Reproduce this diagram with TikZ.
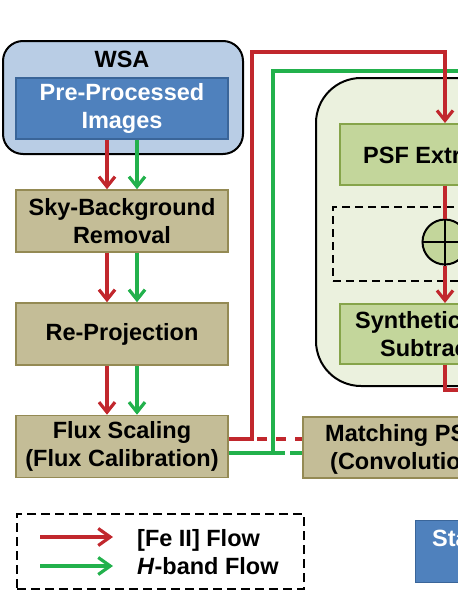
\documentclass[tikz,border=0pt]{standalone}
\usepackage{fontspec}
\setmainfont{Liberation Sans}
\usetikzlibrary{arrows.meta}
\definecolor{wsafill}{HTML}{B9CDE5}
\definecolor{bluefill}{HTML}{4F81BD}
\definecolor{blueline}{HTML}{3A6599}
\definecolor{khaki}{HTML}{C4BD97}
\definecolor{khakiline}{HTML}{948A54}
\definecolor{palegreen}{HTML}{EBF1DE}
\definecolor{boxgreen}{HTML}{C3D69B}
\definecolor{boxgreenline}{HTML}{86A44A}
\definecolor{fered}{HTML}{C1272D}
\definecolor{hgreen}{HTML}{22B14C}
\tikzset{
  lbl/.style={font=\fontsize{23.5}{28.5}\selectfont\bfseries, align=center, inner sep=0pt},
  kbox/.style={lbl, draw=khakiline, fill=khaki, line width=1.6pt, minimum width=212pt, minimum height=62pt},
  bluebox/.style={lbl, text=white, draw=blueline, fill=bluefill, line width=1.2pt, minimum width=212pt, minimum height=61pt},
  gbox/.style={draw=boxgreenline, fill=boxgreen, line width=1.6pt, inner sep=0pt, anchor=north west},
  feline/.style={draw=fered, line width=3.2pt},
  hline/.style={draw=hgreen, line width=3.2pt},
  tipstyle/.style={-{Straight Barb[length=10pt,width=16pt]}},
  legtip/.style={-{Straight Barb[length=12pt,width=17pt]}},
}
\begin{document}
\begin{tikzpicture}[x=1pt,y=-1pt]
\useasboundingbox (0,0) rectangle (458,592);
\clip (0,0) rectangle (458,592);

% left column
\node[draw=black, line width=2pt, fill=wsafill, rounded corners=20pt, minimum width=240pt, minimum height=113pt, anchor=north west, inner sep=0pt] (wsa) at (2,40) {};
\node[lbl] (wsalabel) at (122,59) {WSA};
\node[bluebox] (pre) at (122,108.5) {Pre-Processed\\Images};
\node[kbox] (sky) at (122,221) {Sky-Background\\Removal};
\node[kbox] (reproj) at (122,334) {Re-Projection};
\node[kbox] (flux) at (122,446.5) {Flux Scaling\\(Flux Calibration)};

% right group
\node[draw=black, line width=2pt, fill=palegreen, rounded corners=45pt, anchor=north west, minimum width=220pt, minimum height=308pt, inner sep=0pt] (big) at (315,77) {};
\node[gbox, minimum width=160pt, minimum height=61pt] (psf) at (339,123) {};
\node[lbl, anchor=base west] (psft) at (363,163) {PSF Extra};
\node[draw=black, line width=2pt, dash pattern=on 8pt off 5pt, anchor=north west, minimum width=160pt, minimum height=74pt, inner sep=0pt] (comb) at (332,206) {};
\node[circle, draw=black, line width=2pt, fill=boxgreen, minimum size=45pt, inner sep=0pt] (plus) at (445,242) {};
\draw[line width=2pt] (plus.north) -- (plus.south) (plus.west) -- (plus.east);
\node[gbox, minimum width=160pt, minimum height=60pt] (synth) at (339,303) {};
\node[lbl, anchor=base west] (synt1) at (355,328) {Synthetic};
\node[lbl, anchor=base west] (synt2) at (380,356.5) {Subtrac};
\node[draw=khakiline, fill=khaki, line width=1.6pt, anchor=north west, minimum width=180pt, minimum height=61pt, inner sep=0pt] (match) at (302,416) {};
\node[lbl, anchor=base west] (m1) at (325,441) {Matching PS};
\node[lbl, anchor=base west] (m2) at (330,469) {(Convolutio};

% legend
\node[draw=black, line width=2pt, dash pattern=on 9pt off 5pt, anchor=north west, minimum width=287pt, minimum height=75pt, inner sep=0pt] (legend) at (16,513) {};
\coordinate (la1) at (40,537); \coordinate (la2) at (113,537);
\coordinate (lb1) at (40,566); \coordinate (lb2) at (113,566);
\draw[feline, legtip] (la1) -- (la2);
\draw[hline, legtip] (lb1) -- (lb2);
\node[lbl, anchor=base west] (l1) at (137,546.5) {[Fe II] Flow};
\node[lbl, anchor=base west] (l2) at (137,574) {\textit{H}-band Flow};

% Sta box
\node[draw=blueline, fill=bluefill, line width=1.2pt, anchor=north west, minimum width=100pt, minimum height=62pt, inner sep=0pt] (sta) at (415,520) {};
\node[lbl, text=white, anchor=base west] (stat) at (432,546) {Sta};

% vertical arrows left column
\draw[feline, tipstyle] ([xshift=-15pt]pre.south) -- ([xshift=-15pt]sky.north);
\draw[hline, tipstyle] ([xshift=15pt]pre.south) -- ([xshift=15pt]sky.north);
\draw[feline, tipstyle] ([xshift=-15pt]sky.south) -- ([xshift=-15pt]reproj.north);
\draw[hline, tipstyle] ([xshift=15pt]sky.south) -- ([xshift=15pt]reproj.north);
\draw[feline, tipstyle] ([xshift=-15pt]reproj.south) -- ([xshift=-15pt]flux.north);
\draw[hline, tipstyle] ([xshift=15pt]reproj.south) -- ([xshift=15pt]flux.north);

% green long path
\coordinate (gc) at (273,453);
\coordinate (gtop) at (273,71);
\coordinate (gend) at (470,71);
\draw[hline] ([yshift=-6.5pt]flux.east) -- (gc) -- (gtop) -- (gend);
\draw[hline, dash pattern=on 12pt off 5pt] (gc) -- (gc -| match.west);

% red long path
\coordinate (rc) at (252,439);
\coordinate (rtop) at (252,52);
\coordinate (rtr) at (445,52);
\draw[feline, tipstyle] ([yshift=7.5pt]flux.east) -- (rc) -- (rtop) -- (rtr) -- (rtr |- psf.north);
\draw[feline, dash pattern=on 10pt off 9pt, dash phase=14pt] (rc) -- (rc -| match.west);

% red through inner group
\coordinate (rout) at (445,390);
\coordinate (rend) at (470,390);
\draw[feline] (rtr |- psf.south) -- (plus.north);
\draw[feline, tipstyle] (plus.south) -- (rtr |- synth.north);
\draw[feline] (rtr |- synth.south) -- (rout) -- (rend);
\end{tikzpicture}
\end{document}
